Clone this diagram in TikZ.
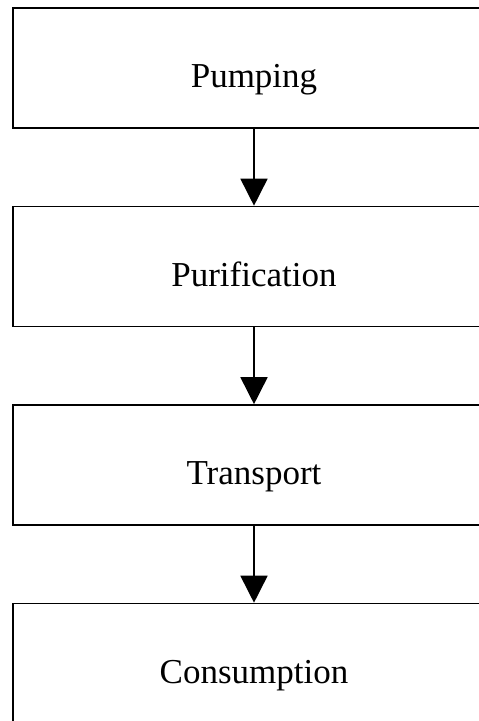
\documentclass[tikz,border=0pt]{standalone}
\usepackage{fontspec}
\setmainfont{Liberation Serif}
\usetikzlibrary{arrows.meta}
\begin{document}
\begin{tikzpicture}[x=1pt,y=-1pt,
  stage/.style={draw=black, line width=1.6pt, rectangle,
    minimum width=482.6pt, minimum height=120pt, inner sep=0pt,
    font=\fontsize{35}{42}\selectfont, text height=39pt, text depth=0pt},
  flow/.style={line width=1.6pt, -{Triangle[length=27pt,width=27pt]}}]
  \clip (0,0) rectangle (479,721);
  \useasboundingbox (0,0) rectangle (479,721);
  \node[stage] (pump)  at (254,68)    {Pumping};
  \node[stage] (purif) at (254,266.5) {Purification};
  \node[stage] (trans) at (254,465)   {Transport};
  \node[stage] (cons)  at (254,663.5) {Consumption};
  \draw[flow] (pump.south)  -- (purif.north);
  \draw[flow] (purif.south) -- (trans.north);
  \draw[flow] (trans.south) -- (cons.north);
\end{tikzpicture}
\end{document}
